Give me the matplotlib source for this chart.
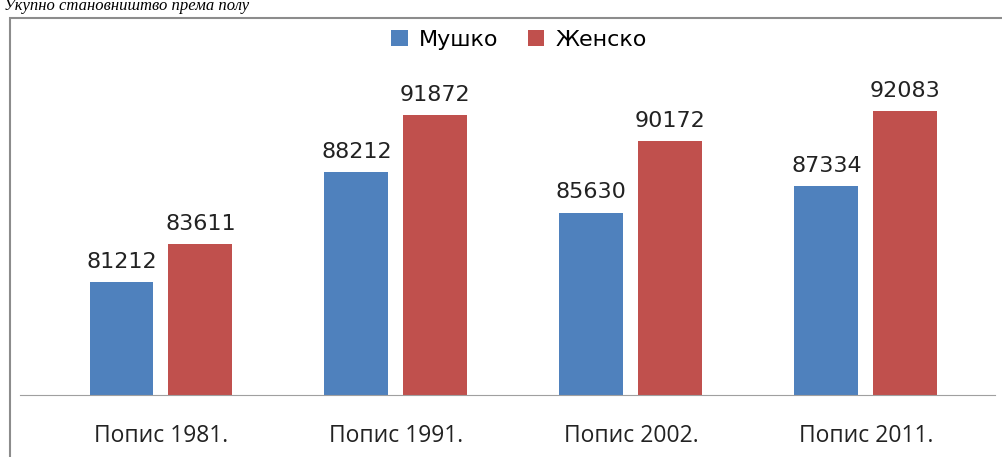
import matplotlib
matplotlib.use("Agg")
import matplotlib.pyplot as plt
import numpy as np
from matplotlib.patches import Rectangle

# census data, population by sex
years = ["Попис 1981.", "Попис 1991.", "Попис 2002.", "Попис 2011."]
male = [81212, 88212, 85630, 87334]
female = [83611, 91872, 90172, 92083]
series_names = ["Мушко", "Женско"]

blue = "#4F81BD"
red = "#C0504D"

fig = plt.figure(figsize=(10.02, 4.57), dpi=100)

# outer chart frame (gray), partly cut by the picture edges
fig.patches.append(Rectangle((10/1002, -0.1), 1.2, (457-18)/457 + 0.1,
                             transform=fig.transFigure, fill=False,
                             edgecolor="#8c8c8c", lw=1.5))

# caption above the chart
fig.text(0.004, 1 - 14/457, "Укупно становништво према полу", ha="left", va="bottom",
         fontsize=12, style="italic", family="Liberation Serif")

ax = fig.add_axes([20/1002, 62/457, 975/1002, 345/457])
x = np.arange(len(years))
w = 0.272
off = 0.168
b1 = ax.bar(x - off, male, w, color=blue, label=series_names[0])
b2 = ax.bar(x + off, female, w, color=red, label=series_names[1])

for bars, vals in ((b1, male), (b2, female)):
    for b, v in zip(bars, vals):
        ax.text(b.get_x() + b.get_width()/2, v + 650, str(v), ha="center", va="bottom",
                fontsize=16, family="DejaVu Sans", color="#222222")

ax.set_ylim(74000, 96000)
ax.set_xlim(-0.6, 3.55)
ax.set_yticks([])
ax.set_xticks(x)
ax.set_xticklabels(years, fontsize=16.5, family="Open Sans", color="#222222")
ax.tick_params(axis="x", length=0, pad=21)
for s in ("top", "right", "left"):
    ax.spines[s].set_visible(False)
ax.spines["bottom"].set_color("#a0a0a0")
ax.patch.set_alpha(0)

fig.legend(loc="center", bbox_to_anchor=(0.518, 1 - 40/457), ncol=2, frameon=False,
           prop={"family": "DejaVu Sans", "size": 16}, handlelength=0.75, handleheight=0.75,
           handletextpad=0.5, columnspacing=1.3)

fig.savefig("out.png", dpi=100)
